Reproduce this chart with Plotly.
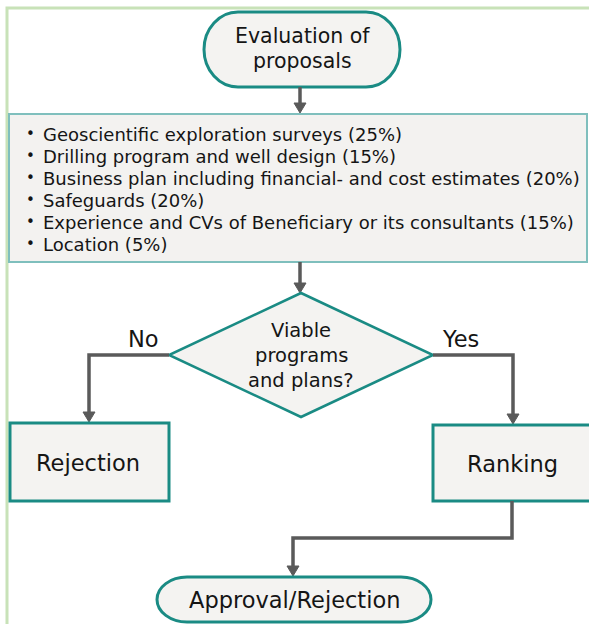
import plotly.graph_objects as go

# ---------------- data (text content) ----------------
start_label = ["Evaluation of", "proposals"]
criteria = [
    "Geoscientific exploration surveys (25%)",
    "Drilling program and well design (15%)",
    "Business plan including financial- and cost estimates (20%)",
    "Safeguards (20%)",
    "Experience and CVs of Beneficiary or its consultants (15%)",
    "Location (5%)",
]
decision_label = ["Viable", "programs", "and plans?"]
branch_labels = ["No", "Yes"]
outcome_labels = ["Rejection", "Ranking"]
final_label = "Approval/Rejection"

# ---------------- styles ----------------
W, H = 589, 624
TEAL = "#1a8b84"
FILL = "#f4f3f1"
ARROW = "#5a5a5a"
TXT = "#151515"
FONT = "Verdana, DejaVu Sans, sans-serif"

shapes = []
annotations = []


def stadium(x0, x1, y0, y1, rx):
    ry = (y1 - y0) / 2
    cy = (y0 + y1) / 2
    k = 0.5523
    p = (
        f"M {x0+rx},{y0} L {x1-rx},{y0} "
        f"C {x1-rx+k*rx},{y0} {x1},{cy-k*ry} {x1},{cy} "
        f"C {x1},{cy+k*ry} {x1-rx+k*rx},{y1} {x1-rx},{y1} "
        f"L {x0+rx},{y1} "
        f"C {x0+rx-k*rx},{y1} {x0},{cy+k*ry} {x0},{cy} "
        f"C {x0},{cy-k*ry} {x0+rx-k*rx},{y0} {x0+rx},{y0} Z"
    )
    return p


def line(points, width=3.5):
    d = "M " + " L ".join(f"{x},{y}" for x, y in points)
    shapes.append(dict(type="path", path=d, line=dict(color=ARROW, width=width)))


def arrowhead(x, y, w=12, h=10):
    d = f"M {x-w/2},{y-h} L {x+w/2},{y-h} L {x},{y} Z"
    shapes.append(dict(type="path", path=d, fillcolor=ARROW, line=dict(color=ARROW, width=1)))


def text(x, y, s, size, xanchor="center"):
    annotations.append(dict(x=x, y=y, text=s, showarrow=False, xanchor=xanchor,
                            yanchor="middle", font=dict(family=FONT, size=size, color=TXT)))


# outer light green frame
shapes.append(dict(type="rect", x0=7, y0=8, x1=W + 20, y1=H + 20,
                   line=dict(color="#c8e2b8", width=3), fillcolor="white", layer="below"))

# start node
shapes.append(dict(type="path", path=stadium(204, 400, 12, 87, 34),
                   fillcolor=FILL, line=dict(color=TEAL, width=3)))
for i, s in enumerate(start_label):
    text(302, 36 + 25 * i, s, 20.5)

# arrow 1
line([(300, 87), (300, 104)])
arrowhead(300, 113)

# criteria box
shapes.append(dict(type="rect", x0=9, y0=114, x1=587, y1=262,
                   fillcolor="#f3f2f0", line=dict(color="#7fbfbd", width=2)))
for i, s in enumerate(criteria):
    yy = 134 + 22 * i
    text(30, yy, "•", 15)
    text(41, yy, s, 18, xanchor="left")

# arrow 2
line([(300, 262), (300, 284)])
arrowhead(300, 293)

# decision diamond
shapes.append(dict(type="path",
                   path="M 301,293 L 433,355 L 301,417 L 169,355 Z",
                   fillcolor=FILL, line=dict(color=TEAL, width=2.5)))
for i, s in enumerate(decision_label):
    text(301, 330 + 25 * i, s, 19.5)

# branches
line([(169, 355), (89, 355), (89, 412)])
arrowhead(89, 422)
line([(433, 355), (513, 355), (513, 414)])
arrowhead(513, 424)
text(143, 339, branch_labels[0], 22.5)
text(460, 339, branch_labels[1], 22.5)

# outcome boxes
shapes.append(dict(type="rect", x0=10, y0=423, x1=169, y1=501,
                   fillcolor=FILL, line=dict(color=TEAL, width=3)))
shapes.append(dict(type="rect", x0=433, y0=425, x1=W + 10, y1=501,
                   fillcolor=FILL, line=dict(color=TEAL, width=3)))
text(88, 463, outcome_labels[0], 22.5)
text(512, 464, outcome_labels[1], 22.5)

# ranking -> final
line([(512, 501), (512, 538), (293, 538), (293, 566)])
arrowhead(293, 576)

# final node
shapes.append(dict(type="path", path=stadium(157, 431, 577, 622, 30),
                   fillcolor=FILL, line=dict(color=TEAL, width=3)))
text(294, 600, final_label, 22.5)

fig = go.Figure()
fig.update_layout(
    width=W, height=H, autosize=False,
    margin=dict(l=0, r=0, t=0, b=0, pad=0),
    paper_bgcolor="white", plot_bgcolor="white",
    xaxis=dict(range=[0, W], visible=False, fixedrange=True),
    yaxis=dict(range=[H, 0], visible=False, fixedrange=True),
    shapes=shapes, annotations=annotations, showlegend=False,
)
fig.write_html("out.html", config=dict(displayModeBar=False),
               post_script="document.body.style.margin='0';")
